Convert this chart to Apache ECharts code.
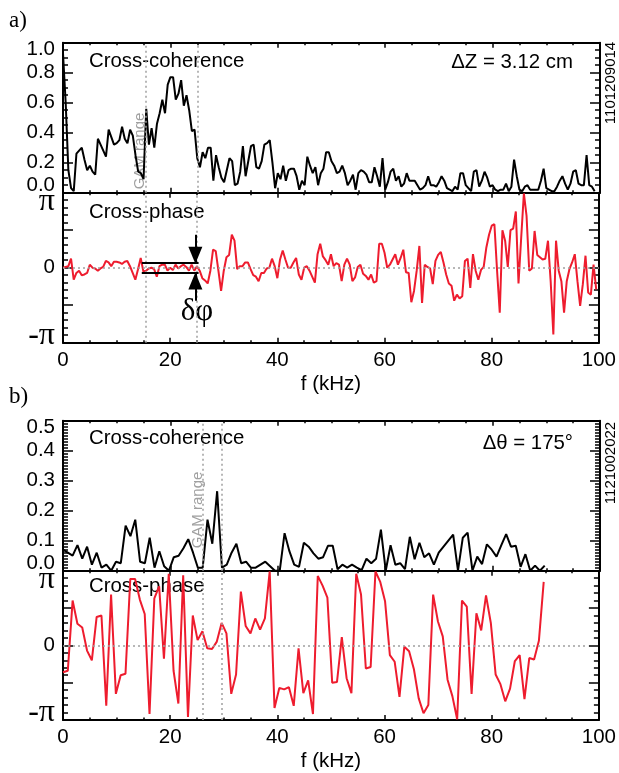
<!DOCTYPE html>
<html>
<head>
<meta charset="utf-8">
<style>html,body{margin:0;padding:0;background:#fff}#chart{width:619px;height:773px}</style>
<script src="https://cdn.jsdelivr.net/npm/echarts@6/dist/echarts.min.js"></script>
</head>
<body>
<div id="chart"></div>
<script>
// panel a, 0.5 kHz bins
var stepA = 0.5;
var cohA = [0.93,0.60,0.15,0.03,0.01,0.26,0.28,0.30,0.22,0.15,0.18,0.14,0.12,0.36,0.32,0.28,0.24,0.42,0.37,0.32,
    0.33,0.35,0.44,0.36,0.33,0.42,0.38,0.25,0.14,0.13,0.09,0.56,0.32,0.43,0.30,0.46,0.53,0.62,0.53,0.72,
    0.77,0.77,0.62,0.66,0.75,0.58,0.65,0.55,0.41,0.42,0.23,0.17,0.27,0.23,0.30,0.30,0.08,0.25,0.17,0.10,
    0.07,0.15,0.23,0.21,0.05,0.06,0.14,0.31,0.11,0.21,0.31,0.32,0.17,0.16,0.21,0.32,0.33,0.35,0.20,0.03,
    0.13,0.09,0.18,0.08,0.15,0.16,0.16,0.11,0.02,0.08,0.05,0.24,0.18,0.13,0.17,0.05,0.13,0.16,0.27,0.27,
    0.21,0.18,0.13,0.14,0.18,0.13,0.05,0.08,0.12,0.02,0.13,0.15,0.14,0.12,0.07,0.07,0.17,0.11,0.04,0.23,
    0.02,0.07,0.14,0.16,0.08,0.11,0.04,0.06,0.13,0.08,0.08,0.08,0.05,0.02,0.03,0.05,0.11,0.05,0.05,0.04,
    0.07,0.11,0.08,0.03,0.02,0.01,0.04,0.02,0.13,0.13,0.05,0.03,0.01,0.14,0.15,0.04,0.08,0.14,0.10,0.04,
    0.05,0.02,0.01,0.02,0.02,0.06,0.01,0.04,0.22,0.11,0.02,0.01,0.04,0.05,0.02,0.02,0.02,0.02,0.08,0.16,
    0.03,0.02,0.01,0.01,0.04,0.08,0.11,0.06,0.02,0.06,0.14,0.15,0.06,0.05,0.05,0.25,0.05,0.04,0.01];
// phase in units of pi
var phaseA = [0,0.01,0.02,0.12,-0.16,-0.07,-0.04,-0.10,-0.09,-0.07,0.04,0,-0.01,-0.04,-0.01,0.01,0.09,0.07,0.02,0.08,
    0.08,0.07,0.05,0.08,0.09,0.02,-0.07,-0.16,-0.02,0.13,-0.05,-0.04,-0.01,0,-0.02,-0.12,0.02,0.04,0.04,-0.04,
    0,-0.03,0.04,-0.01,0.02,0.04,0.01,-0.04,0.04,-0.04,0.02,-0.04,-0.14,-0.17,-0.21,-0.04,0.24,0.22,-0.04,-0.31,
    -0.04,0.14,0.17,0.44,0.36,-0.02,0.02,0.02,0.07,0.07,-0.02,-0.10,-0.12,-0.18,-0.07,-0.07,-0.01,0,0.12,0.02,
    -0.14,0.11,0.23,0.11,0,0,0.07,0.13,-0.09,-0.16,0,0.02,
    -0.04,-0.12,-0.20,0.18,0.32,0.15,0.10,0.04,0.18,0.02,0.06,0.04,-0.18,0.04,0.12,0.04,-0.18,-0.13,0.01,0.04,
    -0.08,-0.11,-0.16,-0.09,-0.20,-0.18,0.32,0.32,0.20,0,0.04,0.11,0.18,0.04,0.13,0.24,-0.06,-0.07,-0.46,-0.31,
    -0.04,0.29,-0.47,0.04,0.01,-0.01,-0.22,0.09,0.17,0.21,0.07,-0.09,-0.21,-0.24,-0.44,-0.36,-0.41,-0.38,0.09,0.12,
    -0.27,0.18,-0.04,-0.16,-0.03,0.01,0.27,0.44,0.56,0.58,-0.04,-0.60,0.50,0.36,0.01,0.50,0.52,0.75,-0.21,0.40,
    0.99,0.69,-0.04,-0.01,0.49,0.17,0.14,0.11,0.12,0.36,-0.18,-0.89,0.36,-0.04,-0.18,-0.60,-0.18,-0.02,0.07,0.18,
    -0.18,-0.51,-0.22,0.16,-0.33,-0.36,0.04,-0.29];
var gamA = [15.4, 25];
var deltaLevels = [0.06, -0.07];
var deltaSpan = [14.7, 25.3];
var arrowX = 24.7;
var arrowTails = [0.44, -0.44];

// panel b, about 0.9 kHz bins
var stepB = 0.897;
var cohB = [0.07,0.06,0.05,0.085,0.04,0.08,0.02,0.06,0.01,0.02,0,0.03,0.025,0.15,0.115,0.17,0.03,0.025,0.11,0.01,
    0.065,0.015,0,0.045,0.05,0.075,0.105,0.06,0.01,0.01,0.17,0.09,0.265,0.01,0.02,0.06,0.09,0.025,0.03,0.01,
    0.01,0.02,0.03,0.015,0,0,0.125,0.065,0.02,0.013,0.093,0.08,0.058,
    0.04,0.045,0.083,0.083,0.005,0.02,0.01,0.02,0.01,0.002,0.04,0.025,0.04,0.137,0,0.085,0.02,0.025,0.005,0.113,
    0.038,0.093,0.045,0.058,0.02,0.06,0.08,0.1,0.12,0,0.11,0.127,0,0.047,0.022,0.088,0.07,0.047,0.085,0.122,
    0.08,0.083,0.013,0.055,0,0.017,0,0.017];
var phaseB = [-0.36,-0.34,0.60,0.29,0.24,-0.07,-0.20,0.38,0.40,-0.81,0.68,-0.65,-0.40,-0.38,0.89,0.89,0.61,0.42,-0.92,0.63,
    0.79,-0.18,0.96,-0.34,-0.78,0.94,-0.96,0.40,0.07,0.19,-0.04,-0.05,0.05,0.30,0.16,-0.65,-0.39,0.72,0.26,0.16,
    0.36,0.21,0.36,0.99,-0.84,-0.57,-0.59,-0.56,-0.81,-0.04,-0.64,-0.47,-0.92,0.93,
    0.80,0.64,-0.50,-0.49,0.11,-0.44,-0.64,0.96,0.68,-0.31,-0.29,0.99,0.85,0.59,-0.13,-0.22,-0.69,-0.02,-0.08,-0.32,
    -0.71,-0.91,-0.80,0.68,0.32,0.12,-0.46,-0.68,-0.99,0.60,0.52,-0.65,0.43,0.20,0.67,0.30,-0.39,-0.52,-0.75,-0.58,
    -0.21,-0.13,-0.72,-0.17,-0.19,0.06,0.85];
var gamB = [26, 29.6];
var zeroEndB = 97.5;

var RED = '#ee1c2e', GREY = '#a0a0a0';
var SANS = '"Liberation Sans", Arial, sans-serif', SERIF = '"Liberation Serif", "Times New Roman", serif';
var panels = [
    { top: 42.7, height: 150, min: 0, max: 1, interval: 0.2, minor: 4 },
    { top: 192.7, height: 150, min: -1, max: 1, interval: 0.5, minor: 5, phase: true, xlabels: true },
    { top: 420.7, height: 150, min: 0, max: 0.5, interval: 0.1, minor: 10 },
    { top: 570.7, height: 150, min: -1, max: 1, interval: 0.5, minor: 5, phase: true, xlabels: true }
];

function pairs(vals, step) {
    return vals.map(function (v, i) { return [i * step, v]; });
}
function piLabel(v) {
    if (v === 1) return '{p|π}';
    if (v === -1) return '{m|-π}';
    if (v === 0) return '0';
    return '';
}
function numLabel(p) {
    return function (v) {
        var s = v.toFixed(1);
        if (v === p.max) return '{t|' + s + '}';
        if (v === p.min) return '{b|' + s + '}';
        return s;
    };
}
var grid = [], xAxis = [], yAxis = [];
panels.forEach(function (p, k) {
    grid.push({ left: 63, width: 537, top: p.top, height: p.height });
    var line = { show: true, onZero: false, lineStyle: { color: '#000', width: 2 } };
    var tick = { show: true, inside: true, length: 5, lineStyle: { color: '#000', width: 1.5 } };
    var minorX = { show: true, splitNumber: 4, length: 2.5, lineStyle: { color: '#000', width: 1.5 } };
    [true, false].forEach(function (primary) {
        xAxis.push({
            type: 'value', gridIndex: k, min: 0, max: 100, interval: 20, position: primary ? 'bottom' : 'top',
            axisLine: line, axisTick: tick, minorTick: minorX, splitLine: { show: false },
            axisLabel: {
                show: primary && !!p.xlabels, margin: 7, color: '#000', fontSize: 20.5, fontFamily: SANS,
                hideOverlap: false
            },
            name: primary && p.xlabels ? 'f (kHz)' : '', nameLocation: 'middle', nameGap: 31,
            nameTextStyle: { color: '#000', fontSize: 20.5, fontFamily: SANS }
        });
        yAxis.push({
            type: 'value', gridIndex: k, min: p.min, max: p.max, interval: p.interval,
            position: primary ? 'left' : 'right',
            axisLine: line, splitLine: { show: false },
            axisTick: { show: true, inside: true, length: 10, lineStyle: { color: '#000', width: 1.5 } },
            minorTick: { show: true, splitNumber: p.minor, length: 5, lineStyle: { color: '#000', width: 1.5 } },
            axisLabel: {
                show: primary, margin: 8, color: '#000', fontSize: 20.5, fontFamily: SANS,
                showMinLabel: true, showMaxLabel: true,
                verticalAlignMinLabel: 'bottom', verticalAlignMaxLabel: 'top',
                formatter: p.phase ? piLabel : numLabel(p),
                rich: {
                    t: { fontSize: 20.5, fontFamily: SANS, color: '#000', lineHeight: 13 },
                    b: { fontSize: 20.5, fontFamily: SANS, color: '#000', lineHeight: 14 },
                    p: { fontSize: 32, fontFamily: SERIF, color: '#000', lineHeight: 18 },
                    m: { fontSize: 32, fontFamily: SERIF, color: '#000', lineHeight: 14 }
                }
            }
        });
    });
});

function guide(xAt, yFrom, yTo) {
    return [{ coord: [xAt, yFrom] }, { coord: [xAt, yTo] }];
}
function markLines(gam, yMin, yMax, zeroEnd) {
    var data = gam.map(function (g) { return guide(g, yMin, yMax); });
    if (zeroEnd) data.push([{ coord: [0, 0] }, { coord: [zeroEnd, 0] }]);
    return {
        silent: true, symbol: 'none', animation: false, label: { show: false },
        lineStyle: { color: GREY, type: [2, 3], width: 1.5 }, data: data
    };
}
function curve(vals, step, k, color, width, ml) {
    return {
        type: 'line', xAxisIndex: k * 2, yAxisIndex: k * 2, data: pairs(vals, step), showSymbol: false, symbol: 'none',
        lineStyle: { color: color, width: width }, silent: true, animation: false, markLine: ml, z: 3
    };
}
var series = [
    curve(cohA, stepA, 0, '#000', 2, markLines(gamA, 0, 1)),
    curve(phaseA, stepA, 1, RED, 2, markLines(gamA, -1, 1, 100)),
    curve(cohB, stepB, 2, '#000', 2, markLines(gamB, 0, 0.5)),
    curve(phaseB, stepB, 3, RED, 2, markLines(gamB, -1, 1, zeroEndB)),
    // delta-phi bracket and arrows
    {
        type: 'line', xAxisIndex: 2, yAxisIndex: 2, data: [], silent: true, z: 5,
        markLine: {
            silent: true, animation: false, symbol: 'none', label: { show: false }, z: 5,
            lineStyle: { color: '#000', width: 2, type: 'solid' },
            data: deltaLevels.map(function (lv) {
                return [{ coord: [deltaSpan[0], lv] }, { coord: [deltaSpan[1], lv] }];
            }).concat(arrowTails.map(function (t, i) {
                return [
                    { coord: [arrowX, t], symbol: 'none' },
                    { coord: [arrowX, deltaLevels[i]], symbol: 'triangle', symbolSize: [14, 17], symbolOffset: [0, 8] }
                ];
            }))
        }
    }
];

function label(text, x, y, font, extra) {
    var st = { text: text, font: font, fill: (extra && extra.fill) || '#000',
        textAlign: (extra && extra.align) || 'left', textVerticalAlign: 'middle' };
    return { type: 'text', x: x, y: y, rotation: (extra && extra.rotation) || 0, style: st, silent: true };
}
var F20 = '20.4px ' + SANS, F15 = '15px ' + SANS, UP = Math.PI / 2;
var graphic = [
    label('a)', 9, 21, '23px ' + SERIF),
    label('b)', 9, 397, '23px ' + SERIF),
    label('Cross-coherence', 89, 61, F20),
    label('Cross-phase', 89, 212, F20),
    label('Cross-coherence', 89, 438, F20),
    label('Cross-phase', 89, 586, F20),
    label('ΔZ = 3.12 cm', 573, 62, F20, { align: 'right' }),
    label('Δθ = 175°', 573, 443, F20, { align: 'right' }),
    label('1101209014', 611, 83, F15, { align: 'center', rotation: UP }),
    label('1121002022', 611, 463, F15, { align: 'center', rotation: UP }),
    label('GAM range', 140, 151, F15, { align: 'center', rotation: UP, fill: GREY }),
    label('GAM range', 198, 510, F15, { align: 'center', rotation: UP, fill: GREY }),
    label('δφ', 197, 312, '31px ' + SERIF, { align: 'center' })
];

var chart = echarts.init(document.getElementById('chart'), null, { renderer: 'canvas' });
chart.setOption({
    backgroundColor: '#fff', animation: false, grid: grid, xAxis: xAxis, yAxis: yAxis,
    series: series, graphic: graphic
});
window.onresize = chart.resize;
</script>
</body>
</html>
